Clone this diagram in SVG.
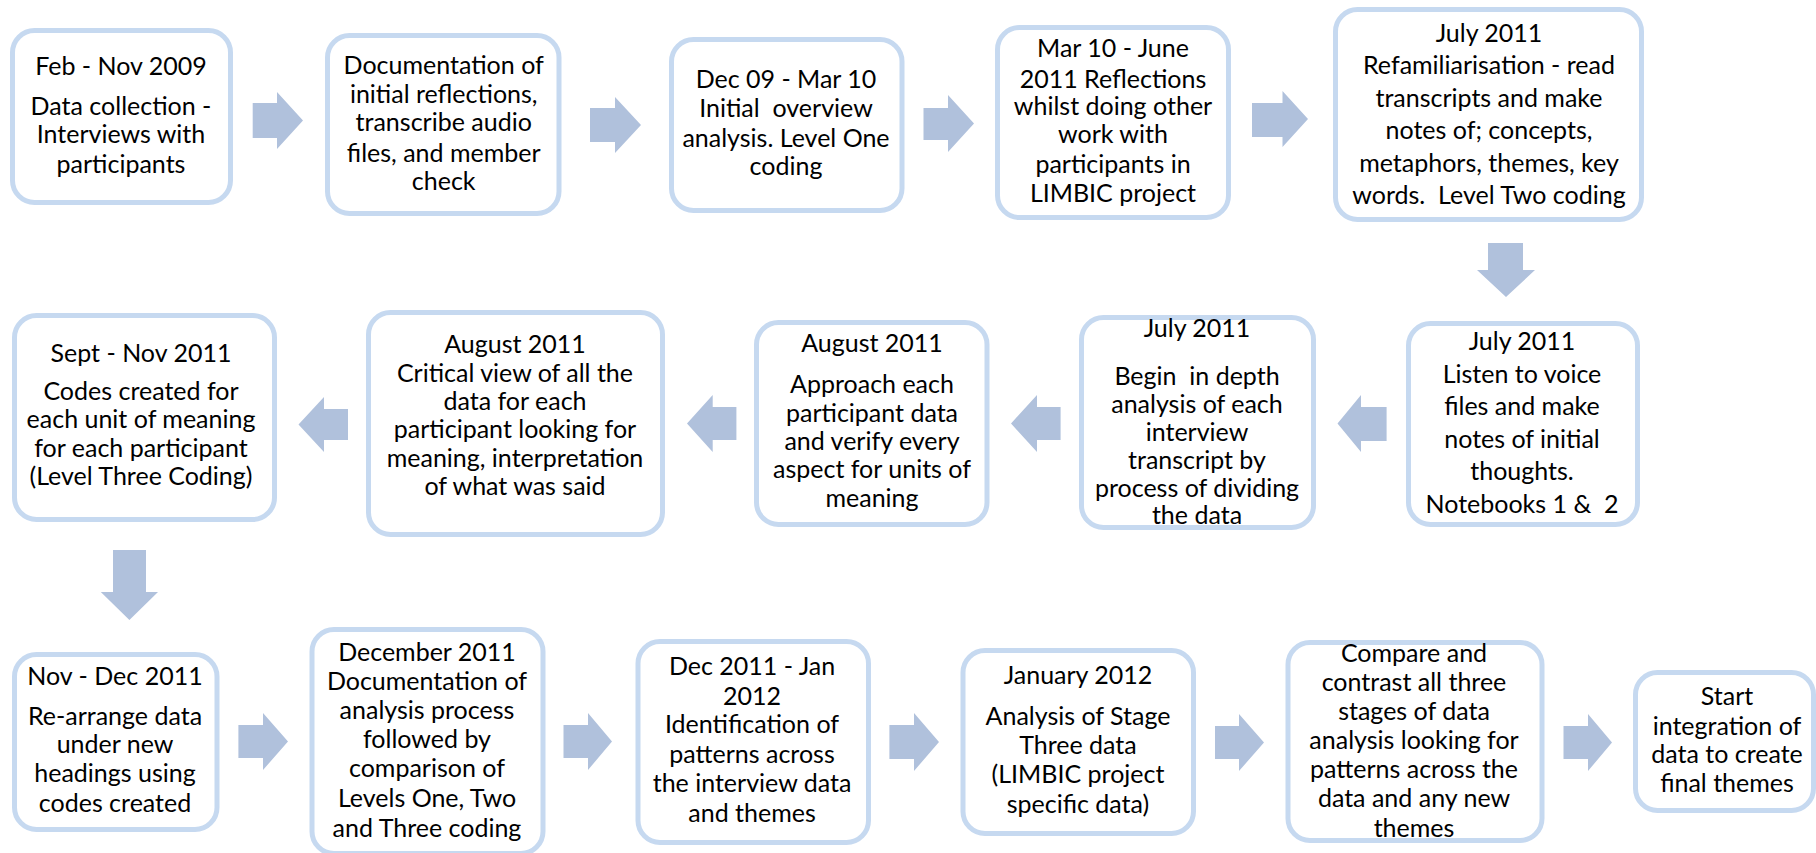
<svg xmlns="http://www.w3.org/2000/svg" width="1816" height="853" viewBox="0 0 1816 853">
<style>
.box{fill:#ffffff;stroke:#c6d9f0;stroke-width:5}
.arr{fill:#b0c1dc}
text{font-family:Lato,"Liberation Sans",sans-serif;font-size:25px;fill:#000;text-anchor:middle;white-space:pre}
</style>
<rect width="1816" height="853" fill="#ffffff"/>
<g id="connectors">
<polygon class="arr" points="252.7,103 277,103 277,92 303,120.5 277,149 277,138 252.7,138"/>
<polygon class="arr" points="590,108 615,108 615,97 641,125 615,153 615,142 590,142"/>
<polygon class="arr" points="923.5,108 948,108 948,95 974,123.5 948,152 948,140 923.5,140"/>
<polygon class="arr" points="1252,103 1282.5,103 1282.5,91 1308,119 1282.5,147 1282.5,137 1252,137"/>
<polygon class="arr" points="1488,243 1523,243 1523,270 1535,270 1506,297 1477,270 1488,270"/>
<polygon class="arr" points="348,409 324,409 324,397 298.5,424.5 324,452 324,440 348,440"/>
<polygon class="arr" points="736.4,407 712.7,407 712.7,395 687,423.5 712.7,452 712.7,440 736.4,440"/>
<polygon class="arr" points="1060.6,407 1037,407 1037,395 1011,423.5 1037,452 1037,440 1060.6,440"/>
<polygon class="arr" points="1386.6,407 1361,407 1361,395 1337.5,423.5 1361,452 1361,441 1386.6,441"/>
<polygon class="arr" points="113,550 146,550 146,592 158,592 129.4,620 100.8,592 113,592"/>
<polygon class="arr" points="238.4,725 263,725 263,713 288,741.5 263,770 263,758 238.4,758"/>
<polygon class="arr" points="563.5,725 588,725 588,713 612,741.5 588,770 588,758 563.5,758"/>
<polygon class="arr" points="889.4,725 914,725 914,713 939,742 914,771 914,759 889.4,759"/>
<polygon class="arr" points="1215,726 1239,726 1239,714 1264,742.5 1239,771 1239,759 1215,759"/>
<polygon class="arr" points="1563.5,726 1588,726 1588,714 1612,742.5 1588,771 1588,759 1563.5,759"/>
</g>
<g id="n1"><rect class="box" x="12.5" y="30.5" width="218" height="172" rx="22"/>
<text x="121" y="75">Feb - Nov 2009</text><text x="121" y="115">Data collection -</text><text x="121" y="143">Interviews with</text><text x="121" y="173">participants</text></g>
<g id="n2"><rect class="box" x="327.5" y="35.5" width="231.5" height="178" rx="22"/>
<text x="443.7" y="74">Documentation of</text><text x="443.7" y="103">initial reflections,</text><text x="443.7" y="131">transcribe audio</text><text x="443.7" y="162">files, and member</text><text x="443.7" y="190">check</text></g>
<g id="n3"><rect class="box" x="671.5" y="39.5" width="230.5" height="171" rx="22"/>
<text x="786" y="88">Dec 09 - Mar 10</text><text x="786" y="117">Initial  overview</text><text x="786" y="147">analysis. Level One</text><text x="786" y="175">coding</text></g>
<g id="n4"><rect class="box" x="997.5" y="27.5" width="231" height="190" rx="22"/>
<text x="1113" y="57">Mar 10 - June</text><text x="1113" y="88">2011 Reflections</text><text x="1113" y="115">whilst doing other</text><text x="1113" y="143">work with</text><text x="1113" y="173">participants in</text><text x="1113" y="202">LIMBIC project</text></g>
<g id="n5"><rect class="box" x="1335.5" y="9.5" width="306" height="210" rx="22"/>
<text x="1489" y="42">July 2011</text><text x="1489" y="74">Refamiliarisation - read</text><text x="1489" y="107">transcripts and make</text><text x="1489" y="139">notes of; concepts,</text><text x="1489" y="172">metaphors, themes, key</text><text x="1489" y="204">words.  Level Two coding</text></g>
<g id="n6"><rect class="box" x="14.5" y="315.5" width="260" height="204" rx="22"/>
<text x="141" y="362">Sept - Nov 2011</text><text x="141" y="400">Codes created for</text><text x="141" y="428">each unit of meaning</text><text x="141" y="457">for each participant</text><text x="141" y="485">(Level Three Coding)</text></g>
<g id="n7"><rect class="box" x="368.5" y="312.5" width="294" height="222" rx="22"/>
<text x="515" y="353">August 2011</text><text x="515" y="382">Critical view of all the</text><text x="515" y="410">data for each</text><text x="515" y="438">participant looking for</text><text x="515" y="467">meaning, interpretation</text><text x="515" y="495">of what was said</text></g>
<g id="n8"><rect class="box" x="756.5" y="322.5" width="230.5" height="202" rx="22"/>
<text x="872" y="352">August 2011</text><text x="872" y="393">Approach each</text><text x="872" y="422">participant data</text><text x="872" y="450">and verify every</text><text x="872" y="478">aspect for units of</text><text x="872" y="507">meaning</text></g>
<g id="n9"><rect class="box" x="1081.5" y="317.5" width="232" height="210" rx="22"/>
<text x="1197" y="337">July 2011</text><text x="1197" y="385">Begin  in depth</text><text x="1197" y="413">analysis of each</text><text x="1197" y="441">interview</text><text x="1197" y="469">transcript by</text><text x="1197" y="497">process of dividing</text><text x="1197" y="524">the data</text></g>
<g id="n10"><rect class="box" x="1408.5" y="323.5" width="229" height="201" rx="22"/>
<text x="1522" y="350">July 2011</text><text x="1522" y="383">Listen to voice</text><text x="1522" y="415">files and make</text><text x="1522" y="448">notes of initial</text><text x="1522" y="480">thoughts.</text><text x="1522" y="513">Notebooks 1 &amp;  2</text></g>
<g id="n11"><rect class="box" x="14.5" y="654.5" width="202.5" height="175" rx="22"/>
<text x="115" y="685">Nov - Dec 2011</text><text x="115" y="725">Re-arrange data</text><text x="115" y="753">under new</text><text x="115" y="782">headings using</text><text x="115" y="812">codes created</text></g>
<g id="n12"><rect class="box" x="312" y="629.5" width="231" height="224" rx="22"/>
<text x="427" y="661">December 2011</text><text x="427" y="690">Documentation of</text><text x="427" y="719">analysis process</text><text x="427" y="748">followed by</text><text x="427" y="777">comparison of</text><text x="427" y="807">Levels One, Two</text><text x="427" y="837">and Three coding</text></g>
<g id="n13"><rect class="box" x="638" y="641.5" width="230.5" height="201" rx="22"/>
<text x="752" y="675">Dec 2011 - Jan</text><text x="752" y="705">2012</text><text x="752" y="733">Identification of</text><text x="752" y="763">patterns across</text><text x="752" y="792">the interview data</text><text x="752" y="822">and themes</text></g>
<g id="n14"><rect class="box" x="963" y="650.5" width="230.5" height="183" rx="22"/>
<text x="1078" y="684">January 2012</text><text x="1078" y="725">Analysis of Stage</text><text x="1078" y="754">Three data</text><text x="1078" y="783">(LIMBIC project</text><text x="1078" y="813">specific data)</text></g>
<g id="n15"><rect class="box" x="1288" y="642.5" width="254" height="198" rx="22"/>
<text x="1414" y="662">Compare and</text><text x="1414" y="691">contrast all three</text><text x="1414" y="720">stages of data</text><text x="1414" y="749">analysis looking for</text><text x="1414" y="778">patterns across the</text><text x="1414" y="807">data and any new</text><text x="1414" y="837">themes</text></g>
<g id="n16"><rect class="box" x="1635.5" y="672.5" width="178" height="138" rx="22"/>
<text x="1727" y="705">Start</text><text x="1727" y="735">integration of</text><text x="1727" y="763">data to create</text><text x="1727" y="792">final themes</text></g>
</svg>
